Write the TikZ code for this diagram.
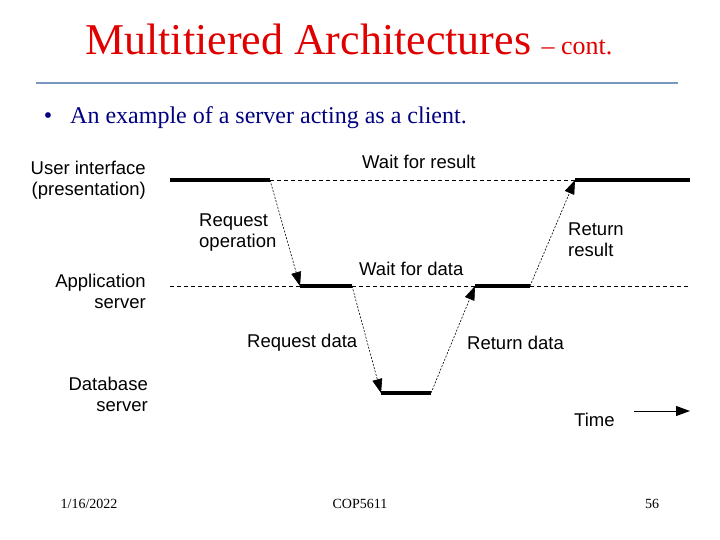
\documentclass[tikz,border=0pt]{standalone}
\usepackage{fontspec}
\setmainfont{Liberation Serif}
\newfontfamily\arialfont{Liberation Sans}
\usetikzlibrary{arrows.meta,positioning}
\definecolor{titlered}{RGB}{224,0,0}
\definecolor{rulegray}{RGB}{122,152,190}
\definecolor{bulletblue}{RGB}{0,0,128}

\begin{document}
\begin{tikzpicture}[x=1pt,y=-1pt,lbl/.style={font=\arialfont\fontsize{18.5}{21}\selectfont,inner sep=0pt},busy/.style={line width=4pt},idle/.style={dash pattern=on 4pt off 3pt,line width=0.6pt},msg/.style={dash pattern=on 2pt off 1.5pt,line width=0.6pt,-{Triangle[length=14pt,width=10pt]}},foot/.style={font=\fontsize{14}{16}\selectfont,inner sep=0pt}]
\useasboundingbox (0,0) rectangle (720,540);
\node[anchor=base west,inner sep=0pt,text=titlered,font=\fontsize{44}{48}\selectfont](title) at (85,55){Multitiered Architectures};
\node[anchor=base west,inner sep=0pt,text=titlered,font=\fontsize{26}{30}\selectfont](cont) at ([xshift=10pt]title.base east){-- cont.};
\draw[rulegray,line width=2pt](36,83)--(678,83);
\node[anchor=base,inner sep=0pt,text=bulletblue,font=\fontsize{24}{28}\selectfont](dot) at (48,124){\textbullet};
\node[anchor=base west,inner sep=0pt,text=bulletblue,font=\fontsize{24}{28}\selectfont](intro) at (70,124){An example of a server acting as a client.};
\node[lbl,anchor=east,align=right](ui) at (146,180){User interface\\(presentation)};
\node[lbl,anchor=east,align=right](app) at (146,291){Application\\server};
\node[lbl,anchor=east,align=right](db) at (148,394){Database\\server};
\coordinate(uiA) at (170,180);\coordinate(uiB) at (270,180);\coordinate(uiC) at (575,180);\coordinate(uiD) at (690,180);
\coordinate(apA) at (170,286);\coordinate(apB) at (300,286);\coordinate(apC) at (352,286);\coordinate(apD) at (475,286);\coordinate(apE) at (530,286);\coordinate(apF) at (690,286);
\coordinate(dbA) at (381,393);\coordinate(dbB) at (431,393);
\draw[busy](uiA)--(uiB);\draw[idle](uiB)--(uiC);\draw[busy](uiC)--(uiD);
\draw[idle](apA)--(apB);\draw[busy](apB)--(apC);\draw[idle](apC)--(apD);\draw[busy](apD)--(apE);\draw[idle](apE)--(apF);
\draw[busy](dbA)--(dbB);
\draw[msg](uiB)--(apB);\draw[msg](apC)--(dbA);\draw[msg](dbB)--(apD);\draw[msg](apE)--(uiC);
\node[lbl,anchor=west](waitres) at (362,162){Wait for result};
\node[lbl,anchor=west,align=left](reqop) at (199,233){Request\\operation};
\node[lbl,anchor=west](waitdata) at (359,269){Wait for data};
\node[lbl,anchor=west,align=left](retres) at (568,240){Return\\result};
\node[lbl,anchor=west](reqdata) at (247,343){Request data};
\node[lbl,anchor=west](retdata) at (467,343){Return data};
\node[lbl,anchor=west](time) at (574,420){Time};
\coordinate(tS) at (634,411);\coordinate(tE) at (690,411);
\draw[line width=1pt,-{Triangle[length=14pt,width=10pt]}](tS)--(tE);
\node[foot](date) at (89,504){1/16/2022};
\node[foot](course) at (360,504){COP5611};
\node[foot](page) at (652,504){56};
\end{tikzpicture}
\end{document}
